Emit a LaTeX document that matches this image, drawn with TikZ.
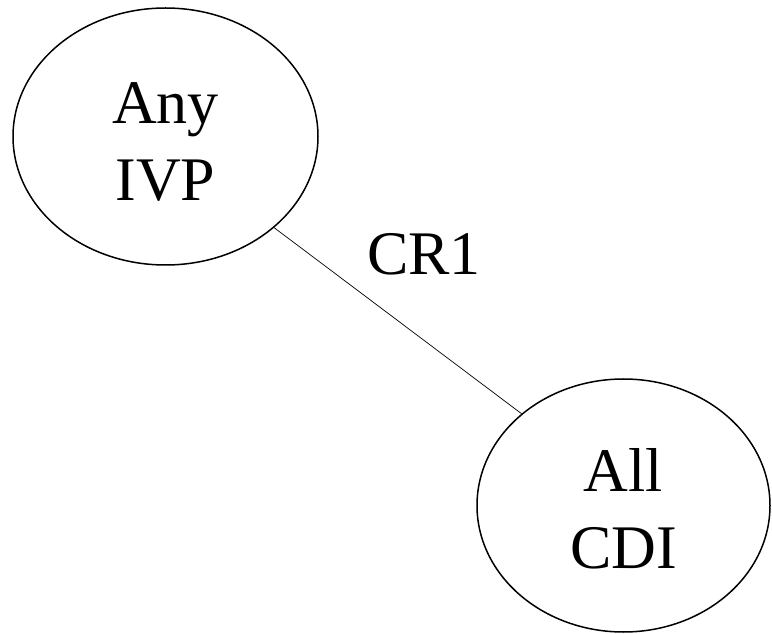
\documentclass[tikz,border=0pt]{standalone}
\usepackage{fontspec}
\setmainfont{Liberation Serif}
\usetikzlibrary{shapes.geometric}

\begin{document}
\begin{tikzpicture}[x=1pt,y=1pt,
    bubble/.style={draw,ellipse,line width=1.5pt,inner sep=0pt,align=center},
    link/.style={draw,line width=0.7pt},
    bigtext/.style={font=\fontsize{62}{77}\selectfont}]
\useasboundingbox (0,0) rectangle (772,633);

\begin{scope}[bigtext]
% Ellipses:
\node [bubble,minimum width=305pt,minimum height=257pt] (any_ivp) at (+165.5, 496.5) {\rule{0pt}{51pt}Any\\IVP};
\node [bubble,minimum width=293pt,minimum height=253pt] (all_cdi) at (+623.5, 127.5) {\rule{0pt}{49pt}All\\CDI};

% Label:
\node [anchor=base,inner sep=0pt] (cr1) at (+424, 358) {CR1};
\end{scope}

% Line connecting the ellipses
\path[link] (any_ivp.-40) -- (all_cdi.138);
\end{tikzpicture}
\end{document}
